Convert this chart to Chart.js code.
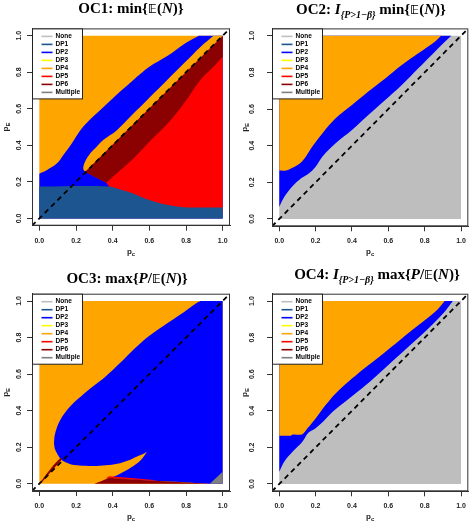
<!DOCTYPE html>
<html>
<head>
<meta charset="utf-8">
<script src="https://cdn.jsdelivr.net/npm/chart.js@4.4.0/dist/chart.umd.min.js"></script>
<style>
  body { margin: 0; background: #fff; width: 472px; height: 523px; position: relative; overflow: hidden; }
  canvas { position: absolute; }
  .title { position: absolute; transform: translateX(-50%); white-space: nowrap;
           font: bold 15px "Liberation Serif", "DejaVu Serif", serif; line-height: 15px; color: #000; }
  .title sub { font-size: 10px; vertical-align: -4px; }
  .bb { font-family: "DejaVu Sans", "DejaVu Serif", sans-serif; font-size: 13px; }
</style>
</head>
<body>
<canvas id="oc1" width="236" height="262" style="left:0;top:0"></canvas>
<canvas id="oc2" width="236" height="262" style="left:236px;top:0"></canvas>
<canvas id="oc3" width="236" height="261" style="left:0;top:262px"></canvas>
<canvas id="oc4" width="236" height="261" style="left:236px;top:262px"></canvas>
<div class="title" style="left:131px;top:1px">OC1: min{<span class="bb">𝔼</span>(<i>N</i>)}</div>
<div class="title" style="left:371px;top:2px">OC2: <i>I</i><sub><i>{P&gt;1−β}</i></sub> min{<span class="bb">𝔼</span>(<i>N</i>)}</div>
<div class="title" style="left:127px;top:271px">OC3: max{<i>P</i>/<span class="bb">𝔼</span>(<i>N</i>)}</div>
<div class="title" style="left:377px;top:267px">OC4: <i>I</i><sub><i>{P&gt;1−β}</i></sub> max{<i>P</i>/<span class="bb">𝔼</span>(<i>N</i>)}</div>
<script>
// axis ticks (R style, range extended by 4%)
const tickValues = [0, 0.2, 0.4, 0.6, 0.8, 1.0];
const axisMin = -0.04, axisMax = 1.04;

const legendLabels = ['None', 'DP1', 'DP2', 'DP3', 'DP4', 'DP5', 'DP6', 'Multiple'];
const legendColors = ['#bebebe', '#1c5590', '#0000ff', '#ffff00', '#ffa500', '#ff0000', '#8b0000', '#7f7f7f'];
const [cNone, cDp1, cDp2, cDp3, cDp4, cDp5, cDp6, cMulti] = legendColors;

const squareX = [0, 1, 1, 0];
const squareY = [0, 0, 1, 1];

// OC1 boundaries
const oc1_dp4Edge_x = [0, 0.04, 0.095, 0.13, 0.177, 0.222, 0.27, 0.33, 0.42, 0.51, 0.6, 0.7, 0.79, 0.87];
const oc1_dp4Edge_y = [0.245, 0.264, 0.3, 0.346, 0.41, 0.48, 0.535, 0.59, 0.675, 0.755, 0.83, 0.89, 0.955, 1.0];
const oc1_band_x = [0.25, 0.24, 0.245, 0.26, 0.28, 0.31, 0.35, 0.42, 0.5, 0.6, 0.7, 0.79, 0.88, 0.95];
const oc1_band_y = [0.255, 0.27, 0.3, 0.33, 0.36, 0.39, 0.43, 0.48, 0.56, 0.66, 0.76, 0.85, 0.94, 1.0];
const oc1_dp6Low_x = [0.365, 0.42, 0.51, 0.6, 0.7, 0.79, 0.88, 0.95, 1.0];
const oc1_dp6Low_y = [0.195, 0.245, 0.325, 0.42, 0.52, 0.63, 0.76, 0.83, 0.885];
const oc1_dp1Top_x = [0, 0.38, 0.45, 0.5, 0.55, 0.6, 0.65, 0.7, 0.75, 0.8, 1.0];
const oc1_dp1Top_y = [0.175, 0.175, 0.155, 0.14, 0.12, 0.1, 0.085, 0.073, 0.065, 0.06, 0.06];

// OC2 boundaries
const oc2_dp4Edge_x = [0, 0.036, 0.064, 0.109, 0.146, 0.182, 0.237, 0.31, 0.4, 0.49, 0.583, 0.674, 0.765, 0.856, 0.89];
const oc2_dp4Edge_y = [0.264, 0.264, 0.276, 0.3, 0.34, 0.395, 0.467, 0.549, 0.622, 0.695, 0.767, 0.84, 0.904, 0.967, 1.0];
const oc2_dp2Edge_x = [0, 0.018, 0.055, 0.109, 0.164, 0.2, 0.237, 0.31, 0.4, 0.49, 0.583, 0.674, 0.765, 0.856, 0.93, 0.947];
const oc2_dp2Edge_y = [0.065, 0.104, 0.158, 0.213, 0.249, 0.285, 0.34, 0.413, 0.485, 0.567, 0.649, 0.731, 0.822, 0.913, 0.985, 1.0];

// OC3 boundaries
const oc3_dp2Upper_x = [0.08, 0.083, 0.095, 0.115, 0.145, 0.185, 0.23, 0.29, 0.36, 0.44, 0.52, 0.6, 0.7, 0.79, 0.86, 0.88];
const oc3_dp2Upper_y = [0.22, 0.26, 0.305, 0.35, 0.395, 0.44, 0.48, 0.53, 0.585, 0.66, 0.74, 0.81, 0.88, 0.94, 0.99, 1.0];
const oc3_dp2Lower_x = [0.08, 0.085, 0.1, 0.122, 0.15, 0.19, 0.25, 0.31, 0.38, 0.44, 0.48, 0.53, 0.56, 0.587];
const oc3_dp2Lower_y = [0.22, 0.19, 0.16, 0.13, 0.115, 0.102, 0.098, 0.097, 0.102, 0.112, 0.125, 0.148, 0.16, 0.175];
const oc3_fingerLow_x = [0.38, 0.404, 0.45, 0.5, 0.55, 0.587];
const oc3_fingerLow_y = [0.033, 0.038, 0.06, 0.088, 0.125, 0.175];
const oc3_dp6Bottom_x = [0.3, 0.34, 0.38, 0.45, 0.6, 0.8, 0.93];
const oc3_dp6Bottom_y = [0, 0.015, 0.033, 0.027, 0.017, 0.007, 0];
const oc3_dp5Strip_x = [0.36, 0.38, 0.45, 0.55, 0.65, 0.6, 0.45, 0.38];
const oc3_dp5Strip_y = [0.027, 0.041, 0.035, 0.027, 0.018, 0.017, 0.027, 0.033];
const oc3_dp6Wedge_x = [0, 0.04, 0.08, 0.115, 0.125, 0.09, 0.05, 0.02];
const oc3_dp6Wedge_y = [0, 0.055, 0.105, 0.14, 0.135, 0.095, 0.05, 0.015];
const oc3_multi_x = [0.93, 1, 1];
const oc3_multi_y = [0, 0, 0.065];

// OC4 boundaries
const oc4_dp4Edge_x = [0, 0.064, 0.073, 0.127, 0.155, 0.2, 0.255, 0.31, 0.4, 0.49, 0.583, 0.674, 0.765, 0.856, 0.89, 0.91];
const oc4_dp4Edge_y = [0.264, 0.264, 0.27, 0.272, 0.304, 0.358, 0.431, 0.495, 0.576, 0.649, 0.722, 0.795, 0.867, 0.94, 0.976, 1.0];
const oc4_dp2Edge_x = [0, 0.027, 0.073, 0.127, 0.16, 0.2, 0.25, 0.3, 0.4, 0.5, 0.6, 0.7, 0.8, 0.9, 0.955];
const oc4_dp2Edge_y = [0.067, 0.122, 0.176, 0.231, 0.28, 0.305, 0.35, 0.4, 0.48, 0.56, 0.65, 0.74, 0.83, 0.93, 1.0];

function pts(xs, ys) { return xs.map((x, i) => ({ x: x, y: ys[i] })); }
function rev(a) { return a.slice().reverse(); }
function P(x, y) { return { x: x, y: y }; }
// corner: repeated point keeps the spline sharp there
function C(x, y) { return [P(x, y), P(x, y)]; }
// boundary curve whose two ends are sharp joins
function edge(xs, ys) { const p = pts(xs, ys); return [p[0]].concat(p, [p[p.length - 1]]); }

const oc1Nose = P(oc1_band_x[0], oc1_band_y[0]);
const oc1Layers = [
  { color: cDp4, points: pts(squareX, squareY) },
  { color: cDp2, smooth: true, points: [].concat(C(0, 0), edge(oc1_dp4Edge_x, oc1_dp4Edge_y), C(1, 1), C(1, 0)) },
  { color: cDp5, points: [oc1Nose, P(1, 1), P(1, 0.03), P(oc1_dp1Top_x[1], 0.03), P(oc1_dp1Top_x[1], oc1_dp1Top_y[1]), P(oc1_dp6Low_x[0], oc1_dp6Low_y[0])] },
  { color: cDp6, smooth: true, points: [].concat(C(oc1Nose.x, oc1Nose.y), C(1, 1), rev(edge(oc1_dp6Low_x, oc1_dp6Low_y))) },
  { color: cDp4, smooth: true, points: edge(oc1_band_x, oc1_band_y).concat(C(1, 1)) },
  { color: cDp1, smooth: true, points: [].concat(C(0, 0), edge(oc1_dp1Top_x, oc1_dp1Top_y), C(1, 0)) }
];

const oc2Layers = [
  { color: cNone, points: pts(squareX, squareY) },
  { color: cDp2, smooth: true, points: edge(oc2_dp2Edge_x, oc2_dp2Edge_y).concat(C(0, 1)) },
  { color: cDp4, smooth: true, points: edge(oc2_dp4Edge_x, oc2_dp4Edge_y).concat(C(0, 1)) }
];

const oc3Layers = [
  { color: cDp4, points: pts(squareX, squareY) },
  { color: cDp2, smooth: true, points: pts(oc3_dp2Upper_x, oc3_dp2Upper_y).concat(
      C(oc3_dp2Upper_x[oc3_dp2Upper_x.length - 1], 1), C(1, 1), C(1, 0),
      rev(pts(oc3_dp6Bottom_x, oc3_dp6Bottom_y)).filter(p => p.x >= 0.38),
      pts(oc3_fingerLow_x, oc3_fingerLow_y),
      rev(pts(oc3_dp2Lower_x, oc3_dp2Lower_y))) },
  { color: cDp6, points: pts(oc3_dp6Bottom_x, oc3_dp6Bottom_y) },
  { color: cDp5, points: pts(oc3_dp5Strip_x, oc3_dp5Strip_y) },
  { color: cDp6, points: pts(oc3_dp6Wedge_x, oc3_dp6Wedge_y) },
  { color: cMulti, points: pts(oc3_multi_x, oc3_multi_y) }
];

const oc4Layers = [
  { color: cNone, points: pts(squareX, squareY) },
  { color: cDp2, smooth: true, points: edge(oc4_dp2Edge_x, oc4_dp2Edge_y).concat(C(0, 1)) },
  { color: cDp4, smooth: true, points: edge(oc4_dp4Edge_x, oc4_dp4Edge_y).concat(C(0, 1)) }
];

// box + legend + axis titles, R base-graphics look
const rFrame = {
  id: 'rFrame',
  afterDraw(chart, args, opts) {
    const ctx = chart.ctx, a = chart.chartArea;
    ctx.save();
    ctx.strokeStyle = '#333';
    ctx.lineWidth = 1;
    ctx.strokeRect(a.left + 0.5, a.top + 0.5, a.right - a.left - 1, a.bottom - a.top - 1);

    // legend
    const lx = a.left + 0.5, ly = a.top + 0.5;
    ctx.fillStyle = '#fff';
    ctx.fillRect(lx, ly, 50, 70);
    ctx.strokeStyle = '#222';
    ctx.strokeRect(lx, ly, 50, 70);
    ctx.font = 'bold 6.5px "Liberation Sans", Arial, sans-serif';
    ctx.textBaseline = 'middle';
    ctx.textAlign = 'left';
    legendLabels.forEach((t, i) => {
      const y = ly + 7.5 + i * 8;
      ctx.strokeStyle = legendColors[i];
      ctx.lineWidth = 1.6;
      ctx.beginPath(); ctx.moveTo(lx + 9, y); ctx.lineTo(lx + 20, y); ctx.stroke();
      ctx.fillStyle = '#000';
      ctx.fillText(t, lx + 23, y);
    });

    // axis titles p_c and p_E
    const sub = (txt, s, cx, cy) => {
      ctx.font = 'bold 8px "Liberation Sans", Arial, sans-serif';
      const w1 = ctx.measureText(txt).width;
      ctx.font = 'bold 6px "Liberation Sans", Arial, sans-serif';
      const w2 = ctx.measureText(s).width;
      const x0 = cx - (w1 + w2) / 2;
      ctx.font = 'bold 8px "Liberation Sans", Arial, sans-serif';
      ctx.fillText(txt, x0, cy);
      ctx.font = 'bold 6px "Liberation Sans", Arial, sans-serif';
      ctx.fillText(s, x0 + w1, cy + 2);
    };
    ctx.fillStyle = '#222';
    ctx.textBaseline = 'alphabetic';
    sub('p', 'c', (a.left + a.right) / 2, a.bottom + 28);
    ctx.translate(a.left - opts.yTitleGap, (a.top + a.bottom) / 2);
    ctx.rotate(-Math.PI / 2);
    sub('p', 'E', 0, 2);
    ctx.restore();
  }
};

function buildPanel(id, layers, box) {
  const datasets = layers.map((l, i) => ({
    data: l.points,
    backgroundColor: l.color,
    borderColor: 'rgba(0,0,0,0)',
    borderWidth: 0,
    pointRadius: 0,
    tension: l.smooth ? 0.35 : 0,
    fill: 'shape',
    order: layers.length - i + 1
  }));
  datasets.push({
    data: [P(axisMin, axisMin), P(axisMax, axisMax)],
    borderColor: '#000',
    borderWidth: 1.8,
    borderDash: [5, 4],
    pointRadius: 0,
    fill: false,
    order: 0
  });
  const tickFont = { size: 7, weight: 'bold', family: '"Liberation Sans", Arial, sans-serif' };
  new Chart(document.getElementById(id), {
    type: 'line',
    data: { datasets: datasets },
    plugins: [rFrame],
    options: {
      responsive: false,
      animation: false,
      events: [],
      layout: { padding: { top: box.top, right: 236 - box.right, left: 0, bottom: 0 } },
      plugins: { legend: { display: false }, tooltip: { enabled: false }, rFrame: { yTitleGap: box.yTitleGap } },
      scales: {
        x: {
          type: 'linear', min: axisMin, max: axisMax,
          afterBuildTicks: s => { s.ticks = tickValues.map(v => ({ value: v })); },
          afterFit: s => { s.height = box.h - box.bottom; },
          ticks: { font: tickFont, color: '#222', padding: 6, maxRotation: 0, autoSkip: false, callback: v => v.toFixed(1) },
          grid: { drawOnChartArea: false, tickLength: 5, color: '#333' },
          border: { color: '#333' }
        },
        y: {
          type: 'linear', min: axisMin, max: axisMax,
          afterBuildTicks: s => { s.ticks = tickValues.map(v => ({ value: v })); },
          afterFit: s => { s.width = box.left; },
          ticks: { font: tickFont, color: '#222', padding: box.tickPad, minRotation: 90, maxRotation: 90,
                   crossAlign: 'center', autoSkip: false, callback: v => v.toFixed(1) },
          grid: { drawOnChartArea: false, tickLength: 5, color: '#333' },
          border: { color: '#333' }
        }
      }
    }
  });
}

buildPanel('oc1', oc1Layers, { left: 32, right: 230, top: 28.4, bottom: 225.7, h: 262, tickPad: 3, yTitleGap: 26 });
buildPanel('oc2', oc2Layers, { left: 36, right: 233.6, top: 28.4, bottom: 226.3, h: 262, tickPad: 10, yTitleGap: 27.5 });
buildPanel('oc3', oc3Layers, { left: 32, right: 230, top: 31.7, bottom: 229, h: 261, tickPad: 3, yTitleGap: 26 });
buildPanel('oc4', oc4Layers, { left: 36, right: 233.6, top: 31.7, bottom: 229.3, h: 261, tickPad: 10, yTitleGap: 27.5 });
</script>
</body>
</html>
